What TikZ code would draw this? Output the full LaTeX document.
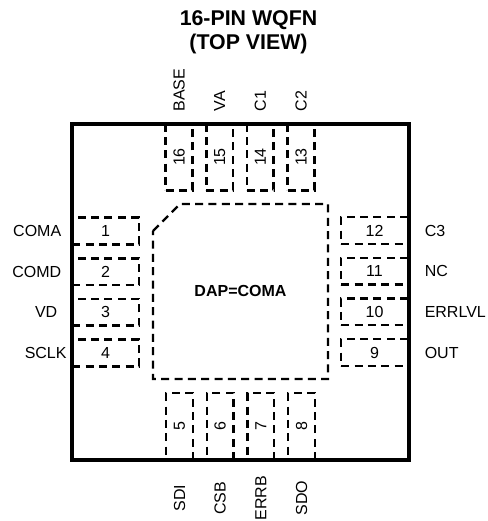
\documentclass[tikz,border=0pt]{standalone}
\usepackage{fontspec}
\setmainfont{Liberation Sans}
\usetikzlibrary{positioning}

\begin{document}
\begin{tikzpicture}[
        x=0.75pt, y=-0.75pt,
        hpin/.style={rectangle, draw, dash pattern=on 6pt off 4pt, line width=1.8pt, minimum width=50pt, minimum height=20pt, inner sep=0pt, outer sep=0pt, font=\fontsize{12}{14}\selectfont},
        vpin/.style={rectangle, draw, dash pattern=on 6pt off 4pt, line width=1.8pt, minimum width=20pt, minimum height=50pt, inner sep=0pt, outer sep=0pt, font=\fontsize{12}{14}\selectfont},
        pinlabel/.style={inner sep=0pt, font=\fontsize{12}{14}\selectfont},
        botlabel/.style={pinlabel, minimum height=33pt},
        dap/.style={draw, dash pattern=on 6pt off 4pt, line width=1.8pt},
        package/.style={rectangle, draw, line width=3pt, minimum width=252.5pt, minimum height=252pt, outer sep=0pt},
        node distance=10.5pt and 10.5pt
        ]
        \useasboundingbox (0,0) rectangle (488,521);

        % Title
        \node (title) [align=center, font=\bfseries\fontsize{16}{18}\selectfont] at (248.5,32) {16-PIN WQFN\\(TOP VIEW)};

        % Left pins
        \node (pin1) [hpin] at (105.5,231) {1};
        \node (pin2) [hpin, below=of pin1] {2};
        \node (pin3) [hpin, below=of pin2] {3};
        \node (pin4) [hpin, below=of pin3] {4};

        % Bottom pins
        \node (pin5) [vpin] at (179.5,426.5) {\rotatebox{90}{5}};
        \node (pin6) [vpin, right=of pin5] {\rotatebox{90}{6}};
        \node (pin7) [vpin, right=of pin6] {\rotatebox{90}{7}};
        \node (pin8) [vpin, right=of pin7] {\rotatebox{90}{8}};

        % Right pins
        \node (pin9) [hpin] at (374.5,352.5) {9};
        \node (pin10) [hpin, above=of pin9] {10};
        \node (pin11) [hpin, above=of pin10] {11};
        \node (pin12) [hpin, above=of pin11] {12};

        % Top pins
        \node (pin13) [vpin] at (301,157) {\rotatebox{90}{13}};
        \node (pin14) [vpin, left=of pin13] {\rotatebox{90}{14}};
        \node (pin15) [vpin, left=of pin14] {\rotatebox{90}{15}};
        \node (pin16) [vpin, left=of pin15] {\rotatebox{90}{16}};

        % Package body and pad
        \node (body) [package] at (240.5,292) {};
        \node (padtext) [font=\bfseries\fontsize{12}{14}\selectfont] at (240.5,291) {DAP=COMA};
        \draw [dap] (153,231) -- (180,204) -- (328,204) -- (328,379) -- (153,379) -- cycle;

        % Pin names
        \node (coma) [pinlabel, left=8pt of pin1] {COMA};
        \node (comd) [pinlabel, left=8pt of pin2] {COMD};
        \node (vd) [pinlabel, left=11pt of pin3] {VD};
        \node (sclk) [pinlabel, left=4pt of pin4] {SCLK};
        \node (sdi) [botlabel, below=12pt of pin5] {\rotatebox{90}{SDI}};
        \node (csb) [botlabel, below=12pt of pin6] {\rotatebox{90}{CSB}};
        \node (errb) [botlabel, below=12pt of pin7] {\rotatebox{90}{ERRB}};
        \node (sdo) [botlabel, below=12pt of pin8] {\rotatebox{90}{SDO}};
        \node (out) [pinlabel, right=12.5pt of pin9] {OUT};
        \node (errlvl) [pinlabel, right=12.5pt of pin10] {ERRLVL};
        \node (nc) [pinlabel, right=12.5pt of pin11] {NC};
        \node (c3) [pinlabel, right=12.5pt of pin12] {C3};
        \node (c2) [pinlabel, above=9pt of pin13] {\rotatebox{90}{C2}};
        \node (c1) [pinlabel, above=9pt of pin14] {\rotatebox{90}{C1}};
        \node (va) [pinlabel, above=9pt of pin15] {\rotatebox{90}{VA}};
        \node (base) [pinlabel, above=9pt of pin16] {\rotatebox{90}{BASE}};

    \end{tikzpicture}
\end{document}
